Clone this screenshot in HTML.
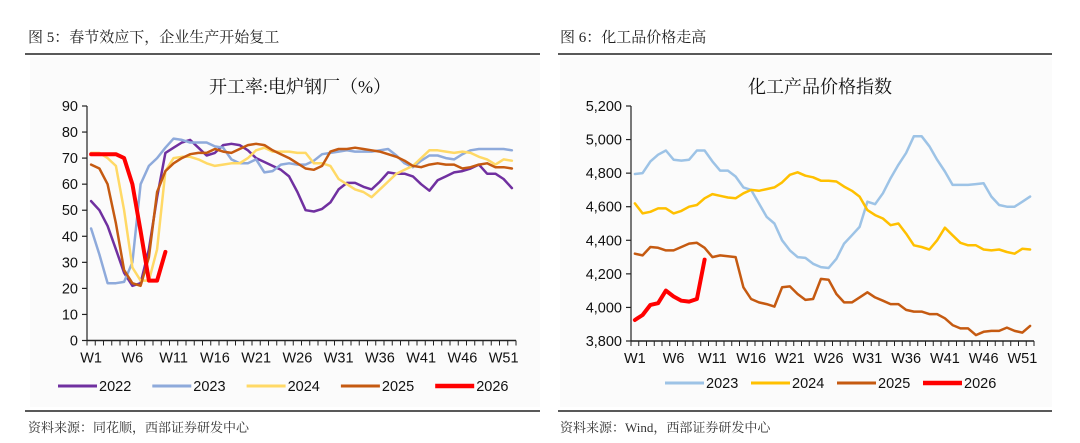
<!DOCTYPE html>
<html><head><meta charset="utf-8"><style>
body{margin:0;background:#fff;}
svg{display:block;font-family:"Liberation Sans","Noto Sans CJK SC",sans-serif;}
.cap{font-family:"Liberation Serif","Noto Serif CJK SC",serif;font-size:15px;fill:#222;}
.src{font-family:"Liberation Serif","Noto Serif CJK SC",serif;font-size:13px;fill:#333;}
.ttl{font-family:"Liberation Serif","Noto Serif CJK SC",serif;font-size:18px;fill:#111;}
.tk{font-size:14.5px;fill:#111;}
.lg{font-size:14.5px;fill:#111;}
</style></head><body>
<svg id="s" width="1080" height="443" viewBox="0 0 1080 443">
<rect x="30" y="57" width="510" height="350" fill="#fbfbfb"/>
<rect x="560" y="57" width="492" height="350" fill="#fbfbfb"/>
<text class="cap" x="28" y="42">图 5：春节效应下，企业生产开始复工</text>
<text class="cap" x="560" y="42">图 6：化工品价格走高</text>
<line x1="25" y1="54" x2="540" y2="54" stroke="#222" stroke-width="1.5"/>
<line x1="558" y1="54" x2="1052" y2="54" stroke="#222" stroke-width="1.5"/>
<line x1="25" y1="411" x2="540" y2="411" stroke="#222" stroke-width="1.5"/>
<line x1="558" y1="411" x2="1052" y2="411" stroke="#222" stroke-width="1.5"/>
<text class="src" x="28" y="432">资料来源：同花顺，西部证券研发中心</text>
<text class="src" x="560" y="432">资料来源：Wind，西部证券研发中心</text>
<text class="ttl" x="300" y="93" text-anchor="middle">开工率:电炉钢厂（%）</text>
<text class="ttl" x="820" y="93" text-anchor="middle">化工产品价格指数</text>
</svg>
<script>
const weekLabels=["W1","W6","W11","W16","W21","W26","W31","W36","W41","W46","W51"];
const leftYTicks=[0,10,20,30,40,50,60,70,80,90];
const rightYTicks=[3800,4000,4200,4400,4600,4800,5000,5200];
const left2022=[53.5,50,44,35,26,21,22,35,55,72,74,76,77,74,71,72,75,75.5,75,73,70,68.5,67,65.5,63,57,50,49.5,50.5,53,58,60.5,60.5,59,58,61,64.5,64,64,63,60,57.5,61.5,63,64.5,65,66,67.5,64,64,62,58.5];
const left2023=[43,33,22,22,22.5,30,60,67,70,74,77.5,77,76,76,76,74.5,74,69.5,68,68,69.5,64.5,65,67.5,68,67.5,67.5,69,71.5,72,72.5,73,72.5,72.5,72.5,73,73.5,71,68,66.5,69,71,71,70,69.5,71.5,73,73.5,73.5,73.5,73.5,73];
const left2024=[72,72,70,67,50,28,23,23,35,65,70,70.5,70.5,69.5,68,67,67.5,68,68,70,73,74,72.5,72.5,72.5,72,72,68,68,67,62,60,58,57,55,58,61,64,65.5,67,70,73,73,72.5,72,72.5,72,70.5,69.5,67.5,69.5,69];
const left2025=[67.5,66,60,45,27,22,21,32,57,65,68,70,71.5,72,72,73.5,72.5,72,73.5,75,75.5,75,73,71.5,70,68,66,65.5,67,72.5,73.5,73.5,74,73.5,73,72.5,71.5,70.5,69,67,66.5,67.5,68,67.5,67.5,66,66.5,67.5,68,66.5,66.5,66];
const left2026=[71.5,71.5,71.5,71.5,70,60,42,23,23,34];
const right2023=[4795,4800,4870,4910,4935,4880,4875,4880,4935,4935,4870,4815,4815,4780,4715,4700,4620,4540,4500,4400,4340,4300,4295,4260,4240,4235,4290,4380,4430,4480,4630,4615,4680,4770,4850,4920,5020,5020,4960,4880,4810,4730,4730,4730,4735,4740,4660,4610,4600,4600,4630,4660];
const right2024=[4620,4560,4570,4590,4590,4560,4575,4600,4610,4650,4675,4665,4655,4650,4680,4700,4695,4705,4715,4745,4790,4805,4785,4775,4755,4755,4750,4720,4695,4660,4580,4550,4530,4490,4500,4440,4370,4360,4345,4400,4475,4430,4385,4370,4370,4345,4340,4345,4330,4320,4350,4345];
const right2025=[4320,4310,4360,4355,4340,4340,4360,4380,4385,4355,4300,4310,4305,4300,4120,4050,4030,4020,4005,4120,4125,4080,4045,4050,4170,4165,4080,4030,4030,4060,4090,4060,4040,4020,4020,3985,3975,3975,3960,3960,3935,3895,3875,3875,3835,3855,3860,3860,3880,3860,3850,3890];
const right2026=[3925,3955,4015,4025,4100,4065,4040,4035,4050,4285];
const leftSeries=[["2022",left2022,"#7030a0",2.5],["2023",left2023,"#8eaadb",2.5],["2024",left2024,"#ffd966",2.5],["2025",left2025,"#c55a11",2.5],["2026",left2026,"#ff0000",4]];
const rightSeries=[["2023",right2023,"#9dc3e6",2.5],["2024",right2024,"#ffc000",2.5],["2025",right2025,"#c55a11",2.5],["2026",right2026,"#ff0000",4]];
const NS="http://www.w3.org/2000/svg";
const svg=document.getElementById('s');
function mk(tag,attrs,text){const e=document.createElementNS(NS,tag);for(const k in attrs)e.setAttribute(k,attrs[k]);if(text!==undefined)e.textContent=text;svg.appendChild(e);return e;}
function chart(cfg,prefix){
  const n=52,bw=(cfg.x1-cfg.x0)/n;
  const xs=i=>cfg.x0+bw*(i+0.5);
  const ys=v=>cfg.yb-(v-cfg.vmin)/(cfg.vmax-cfg.vmin)*(cfg.yb-cfg.yt);
  cfg.ticks.forEach(t=>{
    const e=mk('text',{class:'tk',x:cfg.x0-9,y:ys(t)+5,'text-anchor':'end'},cfg.fmt(t));
    
    
    const l=mk('line',{x1:cfg.x0-5,x2:cfg.x0,y1:ys(t),y2:ys(t),stroke:'#222','stroke-width':1.2});
    
    
  });
  const ya=mk('line',{x1:cfg.x0,x2:cfg.x0,y1:cfg.yt,y2:cfg.yb,stroke:'#222','stroke-width':1.2});
  
  
  for(let i=0;i<=n;i++){
    const t=mk('line',{x1:cfg.x0+bw*i,x2:cfg.x0+bw*i,y1:cfg.yb,y2:cfg.yb+5,stroke:'#222','stroke-width':1});
    
    
  }
  weekLabels.forEach((w,k)=>{
    const e=mk('text',{class:'tk',x:xs(k*5),y:cfg.yb+22,'text-anchor':'middle'},w);
    
    
  });
  cfg.series.forEach(([name,vals,col,w])=>{
    const d=vals.map((v,i)=>(i?'L':'M')+xs(i).toFixed(1)+','+ys(v).toFixed(1)).join(' ');
    const p=mk('path',{d:d,fill:'none',stroke:col,'stroke-width':w,'stroke-linejoin':'round','stroke-linecap':'round'});
    
    
  });
  const xa=mk('line',{x1:cfg.x0,x2:cfg.x1,y1:cfg.yb,y2:cfg.yb,stroke:'#222','stroke-width':1.5});
  
  
  cfg.series.forEach(([name,vals,col,w],k)=>{
    const lx=cfg.lgx+k*cfg.lgs;
    const l=mk('line',{x1:lx,x2:lx+39,y1:cfg.lgy,y2:cfg.lgy,stroke:col,'stroke-width':w+0.5});
    
    
    const t=mk('text',{class:'lg',x:lx+41,y:cfg.lgy+5},name);
    
    
  });
}
chart({x0:87,x1:516,yt:106,yb:340.5,vmin:0,vmax:90,ticks:leftYTicks,fmt:t=>String(t),series:leftSeries,lgx:58,lgs:94.3,lgy:386},'left');
chart({x0:631,x1:1034,yt:106,yb:341,vmin:3800,vmax:5200,ticks:rightYTicks,fmt:t=>t.toLocaleString('en-US'),series:rightSeries,lgx:665,lgs:86,lgy:383},'right');
</script>
</body></html>
